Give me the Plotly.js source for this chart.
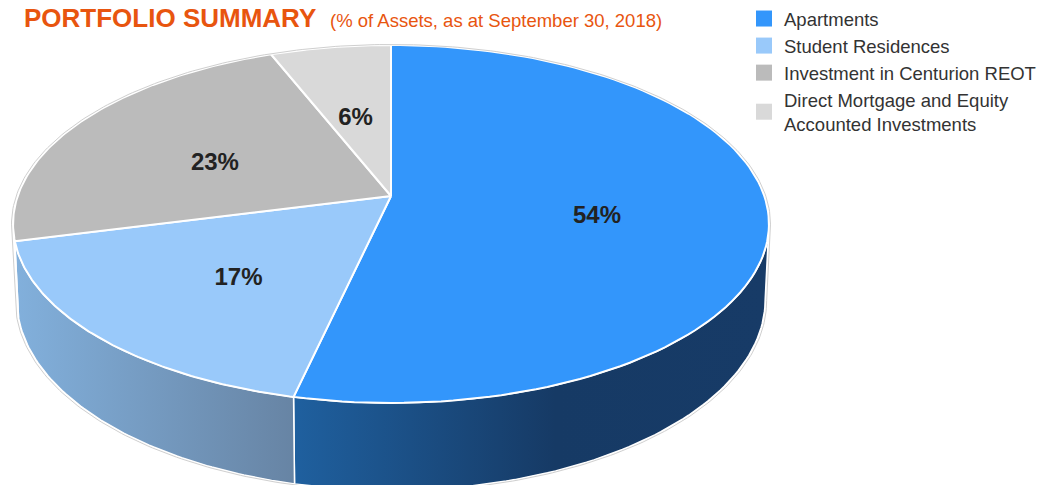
<!DOCTYPE html>
<html>
<head>
<meta charset="utf-8">
<script src="https://cdn.plot.ly/plotly-3.0.1.min.js"></script>
<style>html,body{margin:0;padding:0;background:#fff;}#chart{width:1050px;height:485px;}</style>
</head>
<body>
<div id="chart"></div>
<script>
// ---- data ----
const categories = ["Apartments", "Student Residences", "Investment in Centurion REOT", "Direct Mortgage and Equity<br>Accounted Investments"];
const values = [53.55, 17.45, 23.0, 6.0];
const topColors = ["#3396FB", "#99C9FA", "#BBBBBB", "#D9D9D9"];
const sideScales = [
  [[0, "#1F609F"], [0.55, "#163A65"], [1, "#173B67"]],
  [[0, "#82B0DC"], [1, "#6784A4"]],
  [[0, "#8E8E8E"], [1, "#8E8E8E"]],
  [[0, "#A5A5A5"], [1, "#A5A5A5"]]
];

// ---- projection of a tilted disk (perspective) ----
const G = {cx: 391, cy: 196, A: 373.3, B: 174.6, E: 0.1564, D0: 73.7, labR: 0.55, labDrop: 10};
const rad = d => d * Math.PI / 180;
function topPt(th, r) {
  r = (r === undefined) ? 1 : r;
  const s = Math.sin(th), c = Math.cos(th), d = 1 + G.E * r * s;
  return [G.cx + G.A * r * c / d, G.cy - G.B * r * s / d];
}
function botPt(th) {
  const p = topPt(th);
  const s = Math.sin(th);
  return [G.cx + (p[0] - G.cx) * 0.99, p[1] + G.D0 / (1 + G.E * s)];
}
function arc(fn, a0, a1, n) {
  const xs = [], ys = [];
  for (let i = 0; i <= n; i++) {
    const p = fn(rad(a0 + (a1 - a0) * i / n));
    xs.push(p[0]); ys.push(p[1]);
  }
  return [xs, ys];
}

const total = values.reduce((a, b) => a + b, 0);
const vis = [-180 + Math.asin(G.E) * 180 / Math.PI, -Math.asin(G.E) * 180 / Math.PI];
const sideTraces = [], topTraces = [];
let cum = 0;
const labX = [], labY = [], labT = [];
values.forEach((v, i) => {
  const hi = 90 - 360 * cum / total;
  const lo = 90 - 360 * (cum + v) / total;
  const mid = (hi + lo) / 2;
  cum += v;
  // top face
  const a = arc(topPt, hi, lo, 120);
  topTraces.push({
    x: [G.cx].concat(a[0], [G.cx]), y: [G.cy].concat(a[1], [G.cy]),
    mode: "lines", fill: "toself", fillcolor: topColors[i],
    line: {color: "#ffffff", width: 2}, hoverinfo: "skip", showlegend: false
  });
  // side wall
  const s0 = Math.max(lo, vis[0]), s1 = Math.min(hi, vis[1]);
  if (s1 > s0) {
    const t = arc(topPt, s1, s0, 80);
    const b = arc(botPt, s0, s1, 80);
    sideTraces.push({
      x: t[0].concat(b[0], [t[0][0]]), y: t[1].concat(b[1], [t[1][0]]),
      mode: "lines", fill: "toself",
      fillgradient: {type: "horizontal", colorscale: sideScales[i]},
      line: {color: "#ffffff", width: 1.5}, hoverinfo: "skip", showlegend: false
    });
  }
  const lp = topPt(rad(mid), G.labR);
  labX.push(lp[0]); labY.push(lp[1] + G.labDrop); labT.push(Math.round(v) + "%");
});

// silhouette outline
const sb = arc(th => topPt(th, 1.004), vis[1], vis[0] + 360, 200);
const sf = arc(th => { const p = botPt(th); return [G.cx + (p[0] - G.cx) * 1.004, p[1] + 1]; }, vis[0], vis[1], 200);
const outline = {
  x: sb[0].concat(sf[0], [sb[0][0]]), y: sb[1].concat(sf[1], [sb[1][0]]),
  mode: "lines", line: {color: "#CFCFCF", width: 1}, hoverinfo: "skip", showlegend: false
};

const labels = {
  x: labX, y: labY, text: labT, mode: "text",
  textfont: {family: "Liberation Sans, Arial, sans-serif", size: 24, color: "#222222", weight: "bold"},
  hoverinfo: "skip", showlegend: false
};

const legendTraces = categories.map((c, i) => ({
  x: [null], y: [null], name: c, mode: "markers",
  marker: {symbol: "square", size: 16, color: topColors[i]},
  hoverinfo: "skip", showlegend: true
}));

const data = sideTraces.concat(topTraces, [outline, labels], legendTraces);

const layout = {
  width: 1050, height: 485,
  margin: {l: 0, r: 0, t: 0, b: 0},
  paper_bgcolor: "#ffffff", plot_bgcolor: "#ffffff",
  xaxis: {range: [0, 1050], visible: false, fixedrange: true},
  yaxis: {range: [485, 0], visible: false, fixedrange: true},
  showlegend: true,
  legend: {
    x: 744 / 1050, xanchor: "left", y: 1, yanchor: "top",
    font: {family: "Liberation Sans, Arial, sans-serif", size: 18.5, color: "#333333"},
    bgcolor: "rgba(0,0,0,0)", itemclick: false, itemdoubleclick: false
  },
  annotations: [
    {text: "PORTFOLIO SUMMARY", xref: "paper", yref: "paper", x: 22 / 1050, y: 1 - 18.5 / 485,
     xanchor: "left", yanchor: "middle", showarrow: false,
     font: {family: "Liberation Sans, Arial, sans-serif", size: 26, color: "#E8550F", weight: "bold"}},
    {text: "(% of Assets, as at September 30, 2018)", xref: "paper", yref: "paper", x: 328 / 1050, y: 1 - 20.8 / 485,
     xanchor: "left", yanchor: "middle", showarrow: false,
     font: {family: "Liberation Sans, Arial, sans-serif", size: 18.5, color: "#E8550F"}}
  ]
};

Plotly.newPlot("chart", data, layout, {displayModeBar: false, staticPlot: true});
</script>
</body>
</html>
